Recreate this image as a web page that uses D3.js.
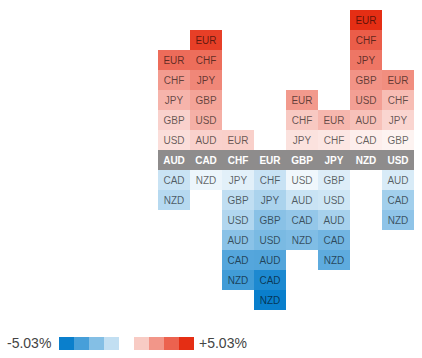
<!DOCTYPE html>
<html>
<head>
<meta charset="utf-8">
<script src="https://cdn.jsdelivr.net/npm/d3@7"></script>
<style>
html,body{margin:0;padding:0;background:#fff;}
svg{display:block;font-family:"Liberation Sans",Arial,sans-serif;}
</style>
</head>
<body>
<svg id="chart" width="422" height="358"></svg>
<script>
// Column currencies (header row)
const currencies = ["AUD","CAD","CHF","EUR","GBP","JPY","NZD","USD"];
// % change of each row currency against the column currency,
// listed in the order of `currencies` (null = the column itself)
const AUD = [null, -1.1, 2.4, 3.53, 1.1, 1.8, -1.5, 0.8];
const CAD = [1.1, null, 3.5, 4.63, 2.2, 2.9, -0.4, 1.9];
const CHF = [-2.4, -3.5, null, 1.13, -1.3, -0.6, -3.9, -1.6];
const EUR = [-3.53, -4.63, -1.13, null, -2.43, -1.73, -5.03, -2.73];
const GBP = [-1.1, -2.2, 1.3, 2.43, null, 0.7, -2.6, -0.3];
const JPY = [-1.8, -2.9, 0.6, 1.73, -0.7, null, -3.3, -1.0];
const NZD = [1.5, 0.4, 3.9, 5.03, 2.6, 3.3, null, 2.3];
const USD = [-0.8, -1.9, 1.6, 2.73, 0.3, 1.0, -2.3, null];
const columnValues = [AUD, CAD, CHF, EUR, GBP, JPY, NZD, USD];
const legendMin = -5.03, legendMax = 5.03;
const legendSteps = [-5.03, -3.77, -2.52, -1.26, 1.26, 2.52, 3.77, 5.03];

const svg = d3.select("#chart");

const x = d3.scaleBand().domain(currencies).range([158, 414]);
const levels = d3.range(7, -8, -1); // 7 above ... 0 header ... -7 below
const y = d3.scaleBand().domain(levels).range([10, 310]);
const color = d3.scaleLinear()
  .domain([legendMin, 0, legendMax])
  .range(["#0a7fcc", "#ffffff", "#e52e14"]);

// build cells
const cells = [];
currencies.forEach((col, ci) => {
  const vals = columnValues[ci];
  const items = currencies.map((c, i) => ({col, row: c, v: vals[i]})).filter(d => d.v !== null);
  const pos = items.filter(d => d.v > 0).sort((a, b) => a.v - b.v);
  const neg = items.filter(d => d.v <= 0).sort((a, b) => b.v - a.v);
  pos.forEach((d, i) => { d.level = i + 1; cells.push(d); });
  neg.forEach((d, i) => { d.level = -(i + 1); cells.push(d); });
});

const g = svg.append("g");
g.selectAll("rect.cell").data(cells).join("rect")
  .attr("class", "cell")
  .attr("x", d => x(d.col))
  .attr("y", d => y(d.level))
  .attr("width", x.bandwidth())
  .attr("height", y.bandwidth())
  .attr("fill", d => color(d.v));

g.selectAll("text.cell").data(cells).join("text")
  .attr("class", "cell")
  .attr("x", d => x(d.col) + x.bandwidth() / 2)
  .attr("y", d => y(d.level) + y.bandwidth() / 2)
  .attr("dy", "0.35em")
  .attr("text-anchor", "middle")
  .attr("font-size", 10)
  .attr("fill", "#000")
  .attr("fill-opacity", 0.6)
  .text(d => d.row);

// header
g.append("rect")
  .attr("x", x.range()[0]).attr("y", y(0))
  .attr("width", x.range()[1] - x.range()[0]).attr("height", y.bandwidth())
  .attr("fill", "#8e8c8c");
g.selectAll("text.head").data(currencies).join("text")
  .attr("class", "head")
  .attr("x", d => x(d) + x.bandwidth() / 2)
  .attr("y", y(0) + y.bandwidth() / 2)
  .attr("dy", "0.35em")
  .attr("text-anchor", "middle")
  .attr("font-size", 10)
  .attr("font-weight", "bold")
  .attr("fill", "#fff")
  .text(d => d);

// legend
const lg = svg.append("g");
const lx = d3.scaleBand().domain(d3.range(4)).range([59, 119]);
const rx = d3.scaleBand().domain(d3.range(4)).range([134, 194]);
lg.selectAll("rect.neg").data(legendSteps.slice(0, 4)).join("rect")
  .attr("class", "neg")
  .attr("x", (d, i) => lx(i)).attr("y", 337)
  .attr("width", lx.bandwidth()).attr("height", 13)
  .attr("fill", d => color(d));
lg.selectAll("rect.pos").data(legendSteps.slice(4)).join("rect")
  .attr("class", "pos")
  .attr("x", (d, i) => rx(i)).attr("y", 337)
  .attr("width", rx.bandwidth()).attr("height", 13)
  .attr("fill", d => color(d));
lg.append("text").attr("x", 7).attr("y", 343.5).attr("dy", "0.35em")
  .attr("font-size", 14).attr("fill", "#444")
  .text(legendMin.toFixed(2) + "%");
lg.append("text").attr("x", 199).attr("y", 343.5).attr("dy", "0.35em")
  .attr("font-size", 14).attr("fill", "#444")
  .text("+" + legendMax.toFixed(2) + "%");
</script>
</body>
</html>
